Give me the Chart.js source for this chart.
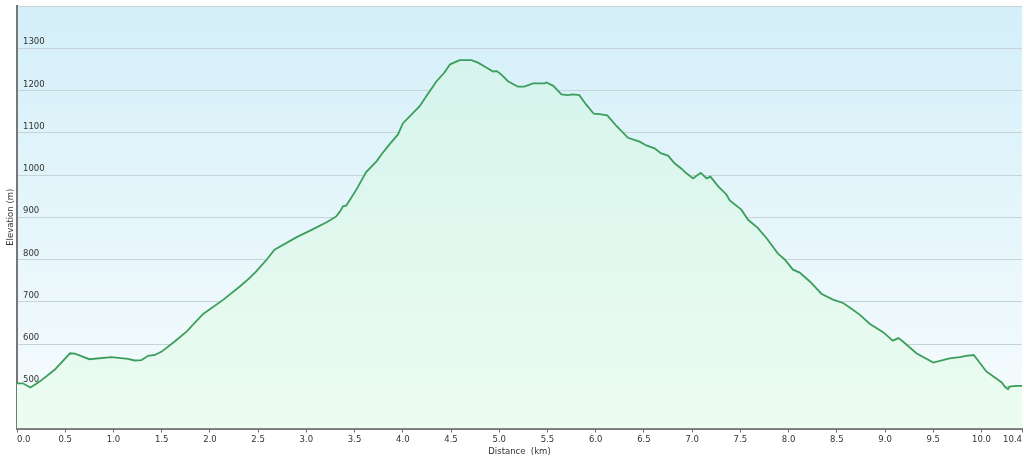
<!DOCTYPE html>
<html>
<head>
<meta charset="utf-8">
<script src="https://cdn.jsdelivr.net/npm/chart.js@4"></script>
<style>
  html, body { margin: 0; padding: 0; background: #fff; }
  #wrap { width: 1024px; height: 461px; }
</style>
</head>
<body>
<div id="wrap"><canvas id="elevacao"></canvas></div>
<script>
// distance along the track (km) and elevation (m)
const distanceKm = [0.00, 0.06, 0.14, 0.235, 0.39, 0.55, 0.60, 0.75, 0.98, 1.15, 1.22, 1.29, 1.36, 1.43, 1.50, 1.635, 1.76, 1.93, 2.14, 2.31, 2.41, 2.48, 2.59, 2.67, 2.90, 3.07, 3.21, 3.31, 3.35, 3.38, 3.415, 3.52, 3.62, 3.73, 3.78, 3.86, 3.95, 4.00, 4.175, 4.245, 4.35, 4.43, 4.49, 4.59, 4.71, 4.78, 4.87, 4.935, 4.975, 5.02, 5.09, 5.195, 5.26, 5.35, 5.47, 5.49, 5.56, 5.645, 5.71, 5.765, 5.83, 5.90, 5.98, 6.04, 6.12, 6.215, 6.335, 6.455, 6.525, 6.61, 6.68, 6.75, 6.82, 6.89, 6.94, 7.01, 7.05, 7.09, 7.15, 7.19, 7.27, 7.355, 7.39, 7.51, 7.58, 7.68, 7.77, 7.89, 7.96, 8.045, 8.115, 8.22, 8.34, 8.46, 8.565, 8.63, 8.74, 8.84, 8.98, 9.08, 9.14, 9.185, 9.325, 9.50, 9.67, 9.775, 9.84, 9.92, 10.05, 10.21, 10.245, 10.275, 10.29, 10.36, 10.42];
const elevationM = [507, 507, 497, 511, 539, 578, 577, 564, 569, 565, 561, 562, 572, 574, 582, 606, 630, 671, 705, 736, 756, 772, 800, 823, 853, 872, 888, 902, 914, 926, 928, 966, 1007, 1033, 1049, 1072, 1096, 1122, 1163, 1187, 1222, 1242, 1262, 1272, 1272, 1266, 1254, 1245, 1246, 1238, 1222, 1209, 1209, 1217, 1217, 1219, 1211, 1191, 1189, 1191, 1189, 1167, 1145, 1144, 1141, 1116, 1088, 1079, 1070, 1063, 1051, 1046, 1027, 1015, 1004, 992, 999, 1005, 992, 996, 973, 954, 940, 918, 894, 875, 851, 814, 800, 776, 769, 748, 719, 705, 697, 687, 669, 648, 628, 608, 614, 606, 578, 556, 566, 569, 572, 574, 535, 509, 498, 493, 499, 501, 501];

// axis ticks
const distanceTicks = [0, 0.5, 1, 1.5, 2, 2.5, 3, 3.5, 4, 4.5, 5, 5.5, 6, 6.5, 7, 7.5, 8, 8.5, 9, 9.5, 10, 10.42];
const elevationMin = 400;
const elevationMax = 1400;

const fonte = { family: 'DejaVu Sans', size: 8.5 };

const pontos = distanceKm.map((d, i) => ({ x: d, y: elevationM[i] }));

// sky background behind the plot
const fundoGradiente = {
  id: 'fundoGradiente',
  beforeDraw(chart) {
    const { ctx, chartArea: a } = chart;
    if (!a) return;
    const g = ctx.createLinearGradient(0, a.top, 0, a.bottom);
    g.addColorStop(0, '#d4eff9');
    g.addColorStop(1, '#f7fcfd');
    ctx.save();
    ctx.fillStyle = g;
    ctx.fillRect(a.left, a.top, a.right - a.left, a.bottom - a.top);
    ctx.restore();
  }
};

function preenchimento(context) {
  const a = context.chart.chartArea;
  if (!a) return '#e0f7ec';
  const g = context.chart.ctx.createLinearGradient(0, a.top, 0, a.bottom);
  g.addColorStop(0, '#d2f3ec');
  g.addColorStop(1, '#edfcf0');
  return g;
}

const grafico = new Chart(document.getElementById('elevacao').getContext('2d'), {
  type: 'line',
  data: {
    datasets: [{
      label: 'Elevation',
      data: pontos,
      borderColor: '#3b9e5c',
      borderWidth: 1.8,
      backgroundColor: preenchimento,
      fill: 'start',
      pointRadius: 0,
      tension: 0
    }]
  },
  options: {
    responsive: true,
    maintainAspectRatio: false,
    animation: false,
    layout: { padding: { top: 6, right: 2, left: 0, bottom: 0 } },
    plugins: { legend: { display: false }, tooltip: { enabled: false } },
    scales: {
      x: {
        type: 'linear',
        min: 0,
        max: 10.42,
        afterBuildTicks: (scale) => {
          scale.ticks = distanceTicks.map(v => ({ value: v }));
        },
        afterFit: (scale) => { scale.height = 32.5; },
        ticks: {
          autoSkip: false,
          maxRotation: 0,
          align: 'inner',
          padding: 2,
          color: '#333',
          font: fonte,
          callback: (v) => Number(v).toFixed(1)
        },
        grid: {
          drawOnChartArea: false,
          drawTicks: true,
          tickLength: 4,
          color: '#666'
        },
        border: { color: '#777', width: 2 },
        title: {
          display: true,
          text: 'Distance  (km)',
          color: '#333',
          font: fonte,
          padding: { top: 0, bottom: 4 }
        }
      },
      y: {
        min: elevationMin,
        max: elevationMax,
        afterFit: (scale) => {
          scale.width = 17;
          scale.paddingTop = 0;
          scale.paddingBottom = 0;
        },
        ticks: {
          stepSize: 100,
          mirror: true,
          padding: 6,
          labelOffset: -6,
          color: '#333',
          font: fonte,
          callback: (v) => (v === elevationMin || v === elevationMax) ? '' : v
        },
        grid: {
          drawTicks: false,
          color: '#c6d3d8',
          lineWidth: 1
        },
        border: { color: '#777', width: 2 },
        title: {
          display: true,
          text: 'Elevation (m)',
          color: '#333',
          font: fonte,
          padding: { top: 6, bottom: 0 }
        }
      }
    }
  },
  plugins: [fundoGradiente]
});
</script>
</body>
</html>
